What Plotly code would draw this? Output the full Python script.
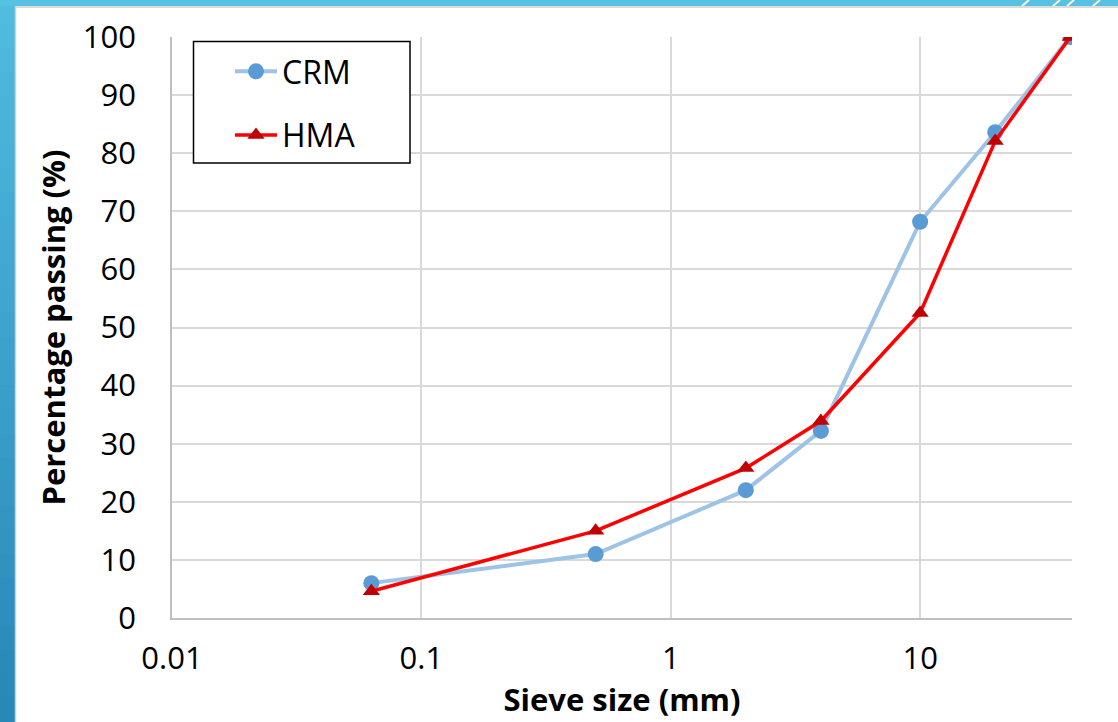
import plotly.graph_objects as go

sieve_mm = [0.063, 0.5, 2, 4, 10, 20, 40]
crm_pass = [6.0, 11.0, 22.0, 32.2, 68.2, 83.6, 100]
hma_pass = [4.6, 15.0, 25.8, 33.9, 52.5, 82.1, 100]
x_ticks = [0.01, 0.1, 1, 10]
x_tick_labels = ["0.01", "0.1", "1", "10"]
y_ticks = list(range(0, 101, 10))

W, H = 1118, 722
L, R, T, B = 172, 46, 37, 104
pw, ph = W - L - R, H - T - B

FONT = "Open Sans"


def px(x):
    return (x - L) / pw


def py(y):
    return (H - B - y) / ph


fig = go.Figure()
fig.add_trace(go.Scatter(
    x=sieve_mm, y=crm_pass, name="CRM", mode="lines+markers", legendgroup="a",
    line=dict(color="#9dc3e6", width=4),
    marker=dict(symbol="circle", size=16, color="#5b9bd5"),
))
fig.add_trace(go.Scatter(
    x=sieve_mm, y=hma_pass, name="HMA", mode="lines+markers", legendgroup="b",
    line=dict(color="#ff0000", width=3.5),
    marker=dict(symbol="triangle-up", size=15, color="#c00000"),
))

shapes = []
# left gradient bar (light at top, darker at bottom)
n = 30
c_top = (80, 188, 222)
c_bot = (40, 136, 184)
for i in range(n):
    t = i / (n - 1)
    col = "rgb(%d,%d,%d)" % tuple(int(a + (b - a) * t) for a, b in zip(c_top, c_bot))
    y0 = i * H / n
    y1 = (i + 1) * H / n + 1
    shapes.append(dict(type="rect", xref="paper", yref="paper",
                       x0=px(0), x1=px(15), y0=py(y1), y1=py(y0),
                       fillcolor=col, line=dict(width=0), layer="below"))
# top bar
shapes.append(dict(type="rect", xref="paper", yref="paper",
                   x0=px(0), x1=px(W), y0=py(6), y1=py(-2),
                   fillcolor="#56c1e0", line=dict(width=0), layer="below"))
# white diagonal stripes on top bar
for xs in [1022, 1053, 1067, 1093]:
    shapes.append(dict(type="line", xref="paper", yref="paper",
                       x0=px(xs), x1=px(xs + 7), y0=py(6), y1=py(0),
                       line=dict(color="white", width=2), layer="below"))
# thin gray borders
shapes.append(dict(type="line", xref="paper", yref="paper",
                   x0=px(15.5), x1=px(15.5), y0=py(H), y1=py(6),
                   line=dict(color="#d0d0d0", width=1.5), layer="below"))
shapes.append(dict(type="line", xref="paper", yref="paper",
                   x0=px(15), x1=px(W), y0=py(7), y1=py(7),
                   line=dict(color="#d0d0d0", width=1.5), layer="below"))
# legend frame
shapes.append(dict(type="rect", xref="paper", yref="paper",
                   x0=px(193.5), x1=px(410), y0=py(163), y1=py(41.5),
                   fillcolor="white", line=dict(color="black", width=1.5),
                   layer="above"))

fig.update_layout(
    width=W, height=H,
    margin=dict(l=L, r=R, t=T, b=B),
    paper_bgcolor="white", plot_bgcolor="white",
    font=dict(family=FONT, color="black"),
    shapes=shapes,
    legend=dict(
        x=px(230), y=py(44), xanchor="left", yanchor="top",
        borderwidth=0, bgcolor="rgba(0,0,0,0)",
        font=dict(size=32, family=FONT), tracegroupgap=19,
        itemwidth=42,
    ),
    xaxis=dict(
        type="log", range=[-2, 1.609],
        tickvals=x_ticks, ticktext=x_tick_labels,
        tickfont=dict(size=31), ticks="", ticklabelstandoff=12,
        showgrid=True, gridcolor="#d9d9d9", gridwidth=1.5,
        showline=True, linecolor="#bfbfbf", linewidth=1.5,
        title=dict(text="<b>Sieve size (mm)</b>", font=dict(size=31), standoff=0),
    ),
    yaxis=dict(
        range=[0, 100], tickvals=y_ticks,
        tickfont=dict(size=31), ticks="", ticklabelstandoff=28,
        showgrid=True, gridcolor="#d9d9d9", gridwidth=1.5, zeroline=False,
        showline=True, linecolor="#bfbfbf", linewidth=1.5,
        title=dict(text="<b>Percentage passing (%)</b>", font=dict(size=31), standoff=8),
    ),
)

fig.write_html("out.html")
